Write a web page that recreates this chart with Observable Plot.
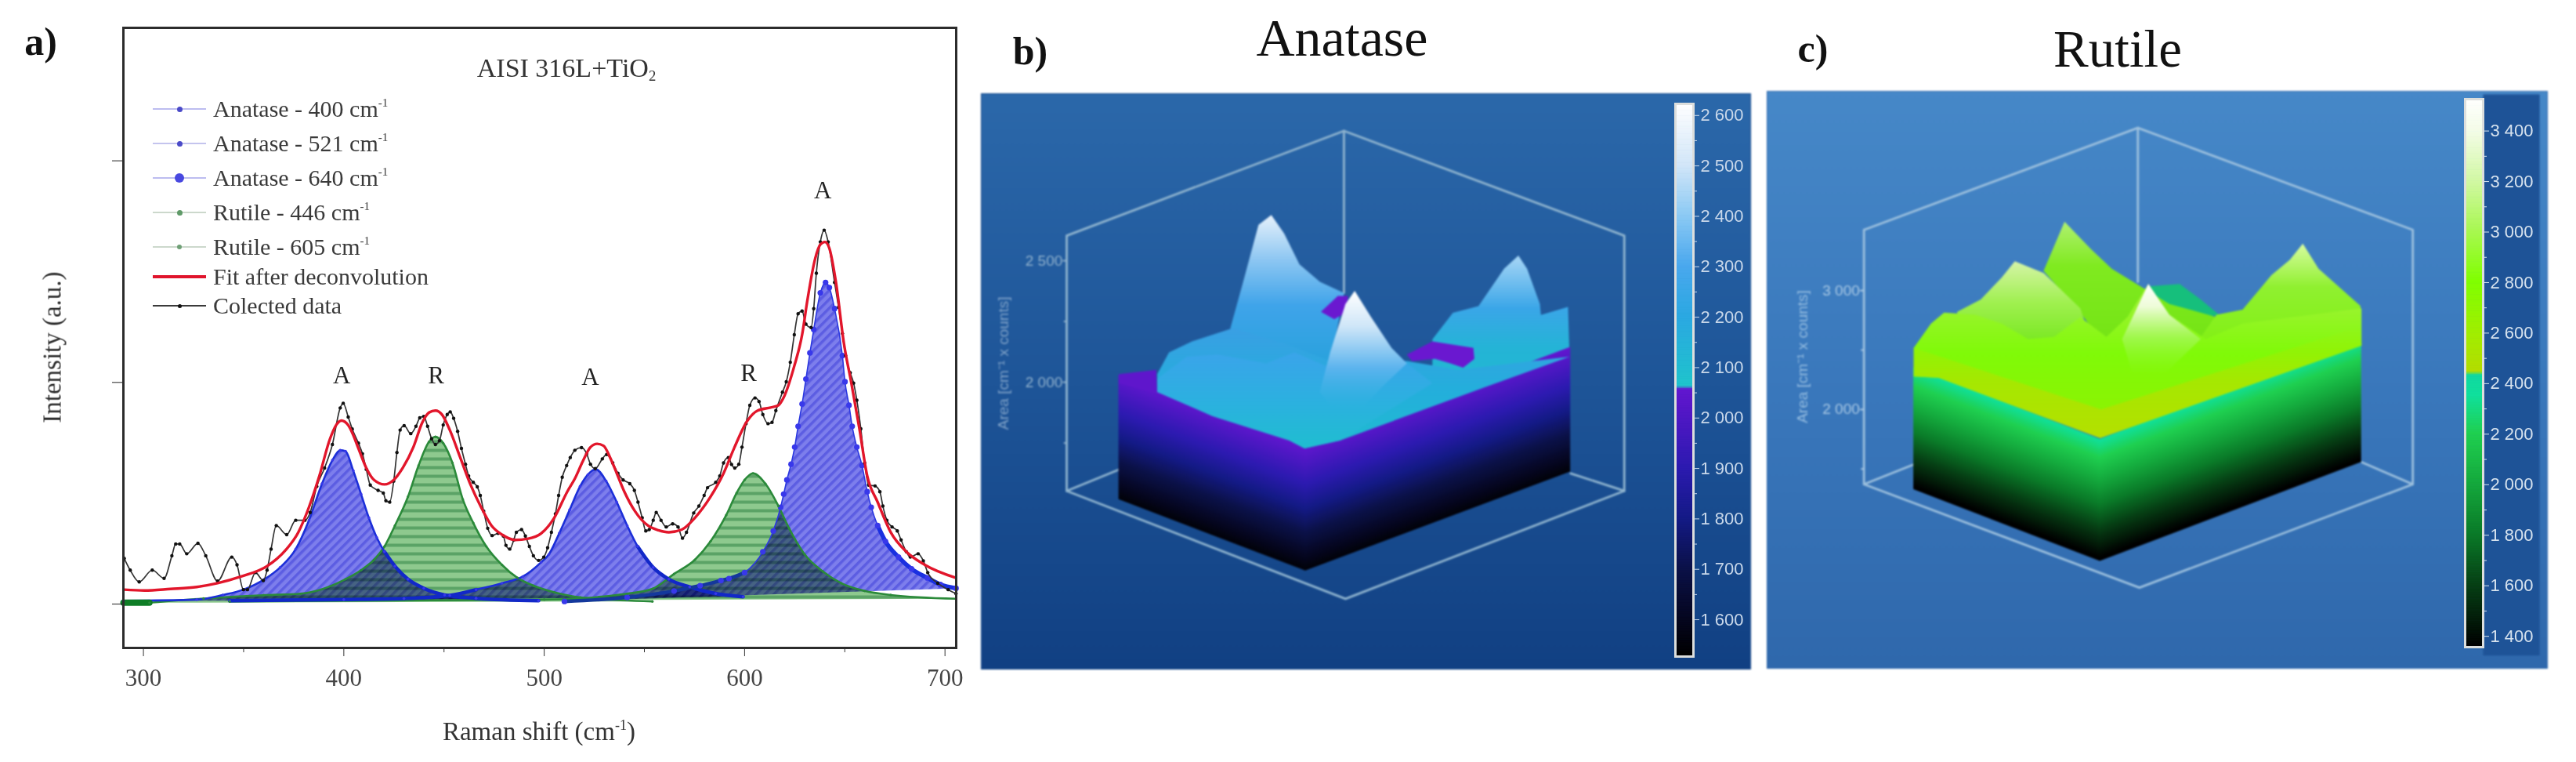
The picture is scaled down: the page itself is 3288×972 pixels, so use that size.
<!DOCTYPE html>
<html><head><meta charset="utf-8">
<script src="https://cdn.jsdelivr.net/npm/d3@7"></script>
<script src="https://cdn.jsdelivr.net/npm/@observablehq/plot@0.6"></script>
<style>
html,body{margin:0;padding:0;background:#fff}
#page{position:relative;width:3288px;height:972px;overflow:hidden;font-family:"Liberation Serif",serif;color:#222}
#page>div{position:absolute}
#page>div.t{transform:translate(-50%,-50%);white-space:nowrap;line-height:1;filter:blur(.6px)}
.lg{white-space:nowrap;line-height:1;font-size:30px;color:#3a3a3a;transform:translateY(-50%);filter:blur(.6px)}
.lg sup{font-size:15px;vertical-align:13px;line-height:0}
sup.s{font-size:.55em;vertical-align:.7em;line-height:0}
sub{font-size:.55em;vertical-align:-.25em;line-height:0}
svg{display:block;overflow:visible}
</style></head><body><div id="page"></div>
<script>
// ---------- panel a: Raman spectrum (x cm-1, y a.u.)
const collected = [[290.4,.206],[293.4,.153],[297.9,.1],[304.4,.153],[310.3,.116],[314.2,.218],[316.1,.271],[318.1,.271],[321.6,.227],[327.2,.274],[331.1,.218],[337,.104],[344.1,.212],[346.7,.177],[349.9,.065],[351.9,.065],[355.9,.142],[359.8,.106],[361.7,.153],[363.7,.248],[366.3,.354],[371.5,.313],[376,.378],[380.6,.378],[383.2,.413],[386.5,.531],[390.4,.614],[394.3,.72],[398.2,.885],[399.7,.906],[402.2,.844],[404.2,.79],[407.3,.726],[409.3,.678],[411.2,.608],[413.2,.537],[417.1,.513],[419.7,.501],[421,.466],[422.9,.46],[424.9,.555],[426.5,.684],[428.1,.785],[430.1,.805],[433.4,.769],[436,.802],[437.9,.84],[439.9,.847],[441.8,.802],[443.8,.746],[445.7,.72],[447.7,.737],[449.6,.808],[451.6,.855],[453.1,.867],[454.8,.838],[456.8,.779],[458.7,.702],[460.7,.631],[462.3,.578],[464.6,.549],[466.6,.529],[468.1,.49],[469.8,.419],[471.8,.342],[474,.309],[477,.319],[479.6,.307],[480.9,.265],[482.8,.248],[484.8,.289],[486.1,.324],[488.7,.336],[490.6,.307],[492.6,.26],[494.6,.218],[497.2,.197],[499.8,.212],[501.7,.254],[503.6,.324],[505.6,.407],[507.2,.49],[509,.572],[511.2,.625],[513,.661],[515.3,.694],[518.6,.706],[521.2,.678],[523.1,.631],[525.5,.611],[529,.655],[531.2,.675],[534.2,.637],[536.8,.59],[539.4,.56],[542.7,.543],[545,.513],[546.8,.46],[548.9,.389],[550.7,.33],[552.4,.336],[554.4,.378],[555.9,.413],[558.3,.378],[560.9,.348],[564.1,.362],[566.8,.348],[569,.297],[571,.324],[574.6,.411],[577.2,.442],[579.8,.49],[581.5,.525],[585.6,.549],[587.6,.578],[589.5,.637],[591.9,.661],[593.5,.63],[595.1,.614],[597.1,.631],[598.7,.708],[600.7,.814],[602.6,.897],[605.2,.93],[607.2,.914],[609.1,.855],[611.7,.814],[613.7,.82],[615.6,.873],[618.9,.956],[620.8,1.003],[622.8,1.091],[624.8,1.215],[626.7,1.31],[628.7,1.322],[630.6,1.263],[633.2,1.248],[634.5,1.333],[635.8,1.493],[637.8,1.634],[639.7,1.687],[641.7,1.634],[644.9,1.451],[646.9,1.339],[648.8,1.221],[650.4,1.121],[652.7,1.044],[654.4,.997],[656,.92],[658,.791],[659.9,.637],[661.9,.537],[665.1,.533],[667.5,.507],[669,.442],[671,.378],[673.6,.348],[676.2,.33],[678.1,.289],[680.7,.236],[682.7,.212],[686.6,.227],[689.2,.195],[691.4,.142],[696.4,.094],[701.6,.065],[705.5,.047]];
const fit = [[290.4,.065],[300.5,.061],[313.5,.068],[326.6,.077],[337,.094],[348.7,.124],[361.7,.171],[370.8,.242],[377.3,.324],[382.6,.437],[387.8,.578],[393,.743],[396.2,.808],[398.8,.828],[402.1,.808],[404.5,.767],[407.3,.702],[411.2,.614],[415.1,.56],[420.3,.54],[424.9,.56],[429.4,.614],[434.7,.708],[439.2,.82],[442.5,.864],[445.7,.873],[449,.855],[452.9,.785],[458.1,.661],[463.3,.537],[468.5,.437],[473.7,.354],[479,.313],[485.4,.289],[492,.295],[498.5,.319],[505,.389],[511.5,.507],[515.3,.566],[519.2,.643],[523.1,.708],[526.4,.723],[529.6,.714],[532.9,.661],[536.2,.59],[540,.507],[545.3,.419],[551.8,.354],[557,.333],[562.2,.324],[568.7,.336],[575.2,.389],[583,.484],[589.5,.59],[594.7,.702],[601.3,.826],[606.5,.873],[613,.887],[616.9,.897],[619.5,.932],[624.8,1.074],[628.7,1.215],[631.3,1.369],[635.2,1.558],[637.8,1.622],[640.1,1.634],[642.3,1.605],[645.6,1.451],[649.5,1.18],[653.4,.991],[657.3,.791],[661.2,.578],[666.4,.46],[672.9,.324],[680.7,.236],[689.9,.177],[705.5,.118]];
const anatase400 = [[290,.015],[326.6,.02],[339.6,.041],[349.9,.065],[360.4,.112],[368.2,.165],[376,.248],[382.6,.378],[389.1,.543],[394.3,.649],[398.2,.694],[400.8,.69],[404.7,.602],[408.6,.496],[412.5,.389],[416.4,.301],[420.3,.236],[425.5,.171],[432,.112],[439.9,.071],[450.3,.041],[466,.026],[497.2,.015]];
const anatase521 = [[343,.015],[400,.02],[430,.025],[452.9,.039],[466,.065],[478.9,.094],[489.3,.124],[498.5,.189],[502.3,.224],[507.5,.319],[512.7,.425],[517.9,.531],[521.8,.584],[525.7,.608],[530.9,.555],[536.2,.46],[541.4,.354],[546.6,.26],[554.4,.165],[562.2,.112],[572.6,.077],[585.6,.047],[599.3,.033]];
const anatase640 = [[510.1,.012],[541.4,.03],[564.8,.059],[577.8,.083],[588.2,.106],[592.2,.115],[600,.142],[609.1,.236],[614.3,.33],[618,.437],[619.5,.496],[621.1,.56],[623.2,.631],[625,.708],[626.7,.802],[628.7,.903],[630.6,1.015],[632.6,1.133],[634.5,1.239],[637.8,1.404],[640.4,1.451],[642.3,1.428],[644.9,1.333],[648.8,1.121],[650.1,1.003],[652.1,.897],[653.7,.802],[656,.708],[658.6,.625],[661.2,.507],[663.2,.437],[666.4,.354],[670.3,.283],[676.8,.212],[683.3,.159],[691.2,.118],[697.7,.088],[705.5,.071]];
const rutile446 = [[303,.006],[330,.025],[360,.04],[378.6,.047],[400.8,.112],[408.6,.153],[415.1,.2],[420.3,.26],[425.5,.354],[432,.484],[437.3,.625],[442.5,.732],[445.7,.755],[449.6,.726],[454.2,.637],[459.4,.472],[464.6,.366],[471.1,.26],[478.9,.177],[486.7,.118],[494.6,.083],[505,.053],[518,.03],[554,.012]];
const rutile605 = [[343,.012],[500,.02],[541.4,.047],[554.4,.07],[564.8,.136],[575.2,.2],[583,.283],[590.8,.401],[596,.501],[600,.56],[604.2,.59],[610.4,.543],[616.9,.442],[622.2,.342],[630,.224],[639.1,.147],[648.2,.094],[659.9,.059],[672.9,.041],[705.5,.024]];
const rutileStart = [[290,.006],[303,.006]];
const peakLabels = [["A",399,1.03],["R",446,1.03],["A",523,1.025],["R",602,1.04],["A",639,1.864]];
const ramanTicks = [300,400,500,600,700];
const ramanMinor = [350,450,550,650];
const intensityTicks = [0,1,2];
const legendRows = [
 ["Anatase - 400 cm","#bcbcf0","#4a4ac8",2,7],["Anatase - 521 cm","#c4c4ee","#4a4ac8",2,7],
 ["Anatase - 640 cm","#bcbcf0","#4848e0",2,12],["Rutile - 446 cm","#ccd8cc","#5f9a68",2,7],
 ["Rutile - 605 cm","#ccd8cc","#6fa076",2,6],["Fit after deconvolution","#e0142c",null,4,0],["Colected data","#3a3a3a","#111",2,5]];
const legendY = [139,183,227,271,315,353,390];

// ---------- panel b: Anatase map (u = projected position, A = area)
const cubeB = [[185,2603],[727,3034],[1275,2603],[1275,1553],[730,1109],[185,1553],[185,2603]];
const cubeInnerB = [[[727,3034],[727,2367]],[[185,1553],[290,1643]],[[1275,1553],[1170,1625]]];
const baseEdgeB = [[287,1517],[652,1224],[1170,1631]];
const peakLeftB = [[505,2223],[530,2413],[560,2648],[585,2688],[610,2612],[640,2485],[680,2413],[727,2367],[700,2069],[505,2069]];
const blob1B = [[682,2290],[715,2355],[735,2355],[730,2286],[708,2259]];
const peakRightB = [[900,2177],[940,2286],[990,2313],[1040,2467],[1068,2521],[1085,2467],[1110,2322],[1112,2277],[1165,2310],[1168,2105],[1000,1978],[900,1978]];
const blob2B = [[850,2114],[900,2168],[980,2141],[982,2096],[960,2060],[935,2078],[905,2096],[860,2087]];
const surfaceB = [[362,2033],[385,2123],[430,2168],[510,2223],[610,2159],[700,2087],[850,2087],[950,2051],[1168,2105],[1000,1978],[720,1761],[650,1728],[620,1761],[470,1861],[362,1960]];
const surfaceFrontB = [[362,2014],[420,2105],[480,2114],[575,2078],[630,2123],[690,2069],[850,2078],[900,1996],[720,1761],[650,1728],[620,1761],[470,1861],[362,1960]];
const peakFrontB = [[680,1960],[700,2123],[730,2322],[748,2376],[780,2268],[820,2141],[850,2078],[800,1978],[760,1888],[700,1906]];
const rimLeftB = [[287,2033],[360,2051],[362,1951],[287,1996]];
const areaTicksB = [2000,2500], areaMinorB = [1750,2250];
const barTicksB = [1600,1700,1800,1900,2000,2100,2200,2300,2400,2500,2600];
const barMinorB = [1650,1750,1850,1950,2050,2150,2250,2350,2450,2550];
const stopsB = [[1527,"#000000"],[1600,"#05061f"],[1700,"#0b1148"],[1800,"#141a86"],[1900,"#2c1ab0"],[2055,"#6216cf"],[2062,"#1fc4cc"],[2100,"#22bcd2"],[2200,"#2ba8e2"],[2300,"#4aa8ee"],[2400,"#8ccaf4"],[2500,"#d2e6f8"],[2623,"#ffffff"]];

// ---------- panel c: Rutile map
const cubeC = [[207,3510],[730,4368],[1255,3510],[1255,1371],[733,502],[207,1371],[207,3510]];
const cubeInnerC = [[[730,4368],[730,3073]],[[207,1371],[302,1538]],[[1255,1371],[1158,1556]]];
const baseEdgeC = [[302,1327],[658,724],[1157,1556]];
const tealBackC = [[750,3036],[810,3055],[850,2925],[885,2796],[800,2740]];
const ridgeLeftC = [[385,2821],[430,2925],[470,3110],[495,3247],[550,3147],[620,2851],[640,2592],[500,2555],[385,2629]];
const midPeakC = [[550,3166],[590,3580],[640,3351],[680,3184],[735,3036],[790,2888],[880,2777],[860,2518],[670,2518],[620,2814]];
const ridgeRightC = [[880,2796],[930,2840],[985,3129],[1020,3258],[1045,3395],[1075,3184],[1155,2870],[1157,2537],[830,2481]];
const mainC = [[302,2518],[335,2722],[360,2814],[420,2796],[470,2722],[520,2592],[570,2611],[620,2777],[670,2611],[710,2777],[750,3055],[790,2796],[860,2592],[930,2722],[1157,2851],[1157,2537],[658,1760],[350,2266],[302,2278]];
const yellowBandC = [[302,2278],[350,2266],[658,1760],[1157,2537],[1157,2703],[660,2000],[302,2518]];
const peakFrontC = [[700,2592],[750,3055],[790,2796],[850,2592],[780,2296],[720,2296]];
const areaTicksC = [2000,3000], areaMinorC = [1500,2500];
const barTicksC = [1400,1600,1800,2000,2200,2400,2600,2800,3000,3200,3400];
const barMinorC = [1500,1700,1900,2100,2300,2500,2700,2900,3100,3300];
const stopsC = [[1357,"#000000"],[1600,"#063f14"],[1800,"#0a7a28"],[2000,"#14a83c"],[2200,"#1fd050"],[2350,"#10e09c"],[2430,"#10d8a0"],[2445,"#b4dc00"],[2600,"#a0ee00"],[2800,"#80ff00"],[3000,"#a8f850"],[3200,"#d2f8a4"],[3400,"#f4fce8"],[3526,"#ffffff"]];

const page = document.getElementById("page");
const X = d=>d[0], Y = d=>d[1];
const fmt = d => String(d).replace(/(\d)(\d{3})$/,"$1 $2");
const ramp = stops => d3.scaleLinear().domain(stops.map(X)).range(stops.map(Y)).interpolate(d3.interpolateRgb);
const defs = html => () => { const e = document.createElementNS("http://www.w3.org/2000/svg","defs"); e.innerHTML = html; return e; };
const place = (node,l,t,blur) => { const w = document.createElement("div"); w.style.left=l+"px"; w.style.top=t+"px"; if(blur) w.style.filter=`blur(${blur}px)`; w.appendChild(node); page.appendChild(w); return w; };
const text = (html,x,y,size,extra="") => { const d=document.createElement("div"); d.className="t"; d.style.cssText=`left:${x}px;top:${y}px;font-size:${size}px;${extra}`; d.innerHTML=html; page.appendChild(d); };
const vgrad = (id,stops) => `<linearGradient id="${id}" x1="0" y1="0" x2="0" y2="1">${stops.map(([o,c,a])=>`<stop offset="${o}" stop-color="${c}" stop-opacity="${a??1}"/>`).join("")}</linearGradient>`;
const poly = (data,fill,extra={}) => Plot.line(data,{x:X,y:Y,fill,stroke:"none",curve:"linear",...extra});

// ---------- panel a
const fillLine = (d,pat) => Plot.line(d,{x:X,y:Y,fill:`url(#${pat})`,stroke:"none",curve:"monotone-x",mixBlendMode:"multiply"});
const strokeLine = (d,c,w) => Plot.line(d,{x:X,y:Y,stroke:c,strokeWidth:w,curve:"monotone-x"});
const plotA = Plot.plot({
  width:1240,height:972,marginLeft:157,marginRight:20,marginTop:35,marginBottom:146,
  x:{domain:[290,705.6]},y:{domain:[-.198,2.6]},
  style:{background:"transparent",fontFamily:"Liberation Serif",color:"#333"},
  marks:[
    defs(`<pattern id="hb" width="8" height="8" patternUnits="userSpaceOnUse" patternTransform="rotate(45)"><rect width="8" height="8" fill="#7d7eec"/><rect width="3.5" height="8" fill="#5c5de2"/></pattern>
      <pattern id="hg" width="11" height="11" patternUnits="userSpaceOnUse"><rect width="11" height="11" fill="#8ec98e"/><rect width="11" height="4" fill="#5ba366"/></pattern>`),
    fillLine(anatase400,"hb"),fillLine(rutile446,"hg"),fillLine(anatase521,"hb"),fillLine(rutile605,"hg"),fillLine(anatase640,"hb"),
    strokeLine(rutile446,"#2b8a3a",2.6),strokeLine(rutile605,"#2b8a3a",2.6),
    strokeLine(anatase400,"#1c2fd8",2.6),strokeLine(anatase521,"#1c2fd8",2.6),strokeLine(anatase640,"#2b38e0",1.6),
    strokeLine(anatase400.filter(d=>d[0]>=420),"#1228c8",4.5),
    strokeLine(anatase521.filter(d=>d[0]<=470),"#1228c8",4.5),
    strokeLine(anatase521.filter(d=>d[0]>=546),"#1228c8",4.5),
    strokeLine(anatase640.filter(d=>d[0]<=609),"#14389c",4.5),
    strokeLine(anatase640.filter(d=>d[0]>=666),"#1a30e0",5.5),
    Plot.line(rutileStart,{x:X,y:Y,stroke:"#0f7d26",strokeWidth:8}),
    Plot.dot(anatase640,{x:X,y:Y,r:3.6,fill:"#3838ea"}),
    Plot.dot(anatase400,{x:X,y:Y,r:1.8,fill:"#3838ea"}),
    Plot.dot(anatase521,{x:X,y:Y,r:1.8,fill:"#3838ea"}),
    Plot.dot(rutile446,{x:X,y:Y,r:1.6,fill:"#2b8a3a"}),
    Plot.dot(rutile605,{x:X,y:Y,r:1.6,fill:"#2b8a3a"}),
    Plot.line(collected,{x:X,y:Y,stroke:"#333",strokeWidth:1.7,curve:"monotone-x"}),
    Plot.dot(collected,{x:X,y:Y,r:2.2,fill:"#111"}),
    Plot.line(fit,{x:X,y:Y,stroke:"#e2162b",strokeWidth:3.4,curve:"monotone-x"}),
    Plot.text(peakLabels,{x:d=>d[1],y:d=>d[2],text:d=>d[0],fontSize:31,fill:"#222"}),
    Plot.axisX({ticks:ramanTicks,tickSize:11,tickPadding:15,fontSize:31,label:null,stroke:"#333",fill:"#444",tickFormat:d=>String(d)}),
    Plot.axisX({ticks:ramanMinor,tickSize:6,label:null,stroke:"#333",tickFormat:()=>""}),
    Plot.axisY({ticks:intensityTicks,tickSize:14,label:null,stroke:"#222",tickFormat:()=>""}),
    Plot.frame({stroke:"#2c2c2c",strokeWidth:3})
  ]});
place(plotA,0,0,.7);

text("a)",52,53,50,"font-weight:700;color:#111");
text('AISI 316L+TiO<sub>2</sub>',723,87,34,"color:#333");
text('Raman shift (cm<sup class="s">-1</sup>)',688,933,33,"color:#333");
text('Intensity (a.u.)',67,443,33,"color:#333;transform:translate(-50%,-50%) rotate(-90deg)");
legendRows.forEach(([label,line,dot,w,r],i)=>{
  const y = legendY[i];
  const l=document.createElement("div"); l.style.cssText=`left:195px;top:${y-w/2}px;width:68px;height:${w}px;background:${line}`; page.appendChild(l);
  if(dot){const c=document.createElement("div"); c.style.cssText=`left:${229-r/2}px;top:${y-r/2}px;width:${r}px;height:${r}px;border-radius:50%;background:${dot}`; page.appendChild(c);}
  const t=document.createElement("div"); t.className="lg"; t.style.cssText=`left:272px;top:${y}px`;
  t.innerHTML = label + (label.endsWith("cm")?"<sup>-1</sup>":""); page.appendChild(t);
});

// ---------- shared pieces of the surface panels
const bands = (edge,start,end,step,color) => d3.range(start,end,step).flatMap(L=>edge.map(([u,b])=>({level:L,u,y1:b+L-start,y2:b+L-start+step*1.25,color:color(L)})));
const wire = (outer,inner,c) => [
  Plot.line(outer,{x:X,y:Y,stroke:c,strokeWidth:2.8}),
  ...inner.map(s=>Plot.line(s,{x:X,y:Y,stroke:c,strokeWidth:2.8}))];
const areaAxis = (ticks,minor,u,c,size) => [
  Plot.ruleY(ticks,{x1:u-7,x2:u,y:d=>d,stroke:c,strokeWidth:2}),
  Plot.ruleY(minor,{x1:u-5,x2:u,y:d=>d,stroke:c,strokeWidth:2}),
  Plot.text(ticks,{x:u-8,y:d=>d,text:fmt,textAnchor:"end",fontSize:size,fill:c,fontFamily:"Liberation Sans"})];
const colorBar = (stops,ticks,minor,mt,mb,h,txt,size) => {
  const c = ramp(stops), lo=stops[0][0], hi=stops[stops.length-1][0], step=(hi-lo)/400;
  return Plot.plot({width:110,height:h,marginLeft:8,marginRight:110-31,marginTop:mt,marginBottom:mb,
    x:{domain:[0,1],axis:null},y:{domain:[lo,hi]},color:{type:"identity"},
    style:{background:"transparent",fontFamily:"Liberation Sans"},
    marks:[
      Plot.rect(d3.range(lo,hi,step),{x1:0,x2:1,y1:d=>d,y2:d=>d+step*1.4,fill:d=>c(d)}),
      Plot.frame({stroke:"#dcdedc",strokeWidth:3}),
      Plot.axisY({anchor:"right",ticks,tickSize:7,tickPadding:2,fontSize:size,label:null,stroke:txt,fill:txt,tickFormat:fmt}),
      Plot.axisY({anchor:"right",ticks:minor,tickSize:4,label:null,stroke:txt,tickFormat:()=>""})
    ]});
};

// ---------- panel b
const colorB = ramp(stopsB);
const plotB = Plot.plot({
  width:982,height:734,margin:0,x:{domain:[18,1522],axis:null},y:{domain:[820,3187],axis:null},color:{type:"identity"},
  style:{background:"transparent",fontFamily:"Liberation Sans"},
  marks:[
    defs(vgrad("bgB",[[0,"#2b68aa"],[.5,"#1e5598"],[1,"#114083"]])
      +vgrad("pkLB",[[0,"#e6f1fb"],[.3,"#8cc6f2"],[.6,"#3fa4ea"],[1,"#28a2dc"]])
      +vgrad("pkRB",[[0,"#a8d6f6"],[.4,"#3aa6e8"],[.7,"#24b4d6"],[1,"#22b8d2"]])
      +vgrad("srfB",[[0,"#3a9fe4"],[.5,"#24aedc"],[1,"#1fbcd0"]])
      +vgrad("srfFB",[[0,"#3aa4ea"],[.5,"#2cb0e0"],[1,"#1fbed0"]])
      +vgrad("pkFB",[[0,"#ffffff"],[.3,"#cfe6f8"],[.65,"#5cb4ee"],[1,"#2fb2e0",0]])),
    Plot.frame({fill:"url(#bgB)",stroke:"#15488a"}),
    ...wire(cubeB,cubeInnerB,"#8fb4cf"),
    ...areaAxis(areaTicksB,areaMinorB,185,"#8fb0cc",19),
    Plot.text(["Area [cm⁻¹ x counts]"],{x:62,y:2078,rotate:-90,fontSize:19,fill:"#7fa2c8",fontFamily:"Liberation Sans"}),
    poly(peakLeftB,"url(#pkLB)"),poly(peakRightB,"url(#pkRB)"),
    Plot.areaY(bands(baseEdgeB,1550,2060,10,colorB),{x:"u",y1:"y1",y2:"y2",z:"level",fill:"color"}),
    poly(rimLeftB,"#5f16cc"),
    poly(surfaceB,"url(#srfB)"),poly(surfaceFrontB,"url(#srfFB)"),
    poly(blob1B,"#6a18d0"),poly(blob2B,"#6a18d0"),
    poly(peakFrontB,"url(#pkFB)")
  ]});
place(plotB,1252,119,1);
place(colorBar(stopsB,barTicksB,barMinorB,13,16,734,"#c9d8ea",22),2130,119,.7);
text("b)",1315,65,50,"font-weight:700;color:#111");
text("Anatase",1713,48,68,"color:#111");

// ---------- panel c
const colorC = ramp(stopsC);
const plotC = Plot.plot({
  width:996,height:736,margin:0,x:{domain:[22,1512],axis:null},y:{domain:[-176,4675],axis:null},color:{type:"identity"},
  style:{background:"transparent",fontFamily:"Liberation Sans"},
  marks:[
    defs(vgrad("bgC",[[0,"#4688c8"],[.5,"#3a78bc"],[1,"#2f68ac"]])
      +vgrad("rlC",[[0,"#d6f4a8"],[.5,"#a0f050"],[1,"#78e820"]])
      +vgrad("mpC",[[0,"#b0f070"],[.35,"#80ea20"],[1,"#74e414"]])
      +vgrad("rrC",[[0,"#d8fca0"],[.4,"#90f030"],[1,"#80f010"]])
      +vgrad("mnC",[[0,"#a6f040"],[.45,"#80fa08"],[1,"#90f000"]])
      +vgrad("ybC",[[0,"#aeea00",.0],[.5,"#aee400",.8],[1,"#b4e000"]])
      +vgrad("pfC",[[0,"#ffffff"],[.25,"#eefcd8"],[.6,"#a8f860",.7],[1,"#90f830",0]])),
    Plot.frame({fill:"url(#bgC)",stroke:"#2f68ac"}),
    Plot.rect([[1390,1498,-72,4646]],{x1:d=>d[0],x2:d=>d[1],y1:d=>d[2],y2:d=>d[3],fill:"#1e5397"}),
    ...wire(cubeC,cubeInnerC,"#9cc0de"),
    ...areaAxis(areaTicksC,areaMinorC,207,"#a8c8e4",19),
    Plot.text(["Area [cm⁻¹ x counts]"],{x:90,y:2444,rotate:-90,fontSize:19,fill:"#94bce0",fontFamily:"Liberation Sans"}),
    poly(tealBackC,"#16bf7c"),poly(midPeakC,"url(#mpC)"),poly(ridgeLeftC,"url(#rlC)"),poly(ridgeRightC,"url(#rrC)"),
    Plot.areaY(bands(baseEdgeC,1340,2360,20,colorC),{x:"u",y1:"y1",y2:"y2",z:"level",fill:"color"}),
    poly(mainC,"url(#mnC)"),poly(yellowBandC,"url(#ybC)"),poly(peakFrontC,"url(#pfC)")
  ]});
place(plotC,2255,116,1);
place(colorBar(stopsC,barTicksC,barMinorC,10,27,736,"#d6e2ee",22),3138,116,.7);
text("c)",2314,62,50,"font-weight:700;color:#111");
text("Rutile",2703,62,67,"color:#111");
</script></body></html>
